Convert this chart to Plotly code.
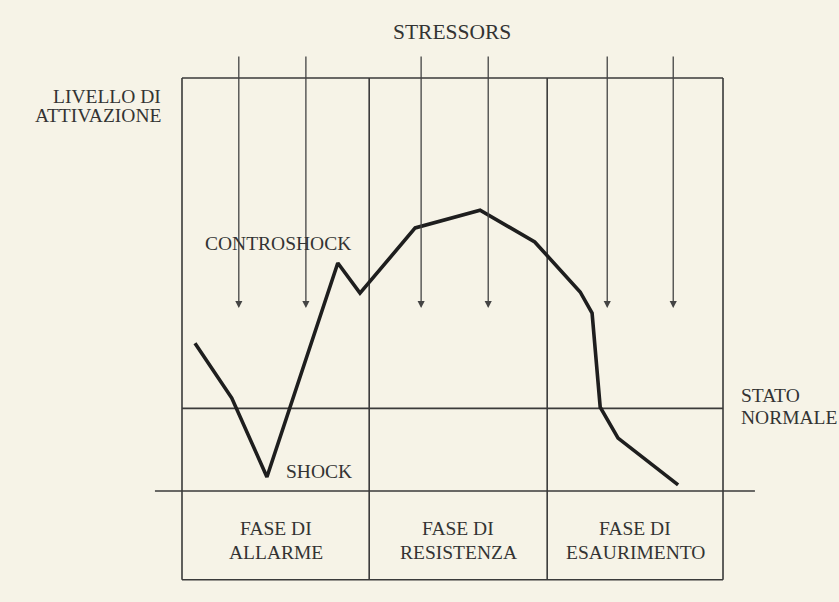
import plotly.graph_objects as go

# ---- data (time in % of the observed span, activation level in arbitrary units) ----
curve_time = [2.4, 9.2, 15.7, 28.8, 32.9, 43.1, 55.1, 65.2, 73.6, 75.8, 77.3, 80.6, 91.7]
curve_level = [35.8, 22.5, 3.4, 55.2, 47.9, 63.7, 68.0, 60.3, 48.2, 43.1, 20.3, 12.8, 1.5]

stressor_times = [10.5, 22.9, 44.2, 56.6, 78.6, 90.8]
stressor_start = 105.6
stressor_end = 44.3

phase_bounds = [0, 34.6, 67.5, 100]
phase_names = [("FASE DI", "ALLARME"), ("FASE DI", "RESISTENZA"), ("FASE DI", "ESAURIMENTO")]
normal_level = 20
top_level = 100
bottom_level = -21.5
axis_level = 0
axis_extent = [-5.0, 105.9]

INK = "#3a3a3a"
BG = "#f6f3e7"
FONT = "Liberation Serif, Times New Roman, serif"

fig = go.Figure()

fx, fy = [], []
fx += [phase_bounds[0], phase_bounds[-1], None, phase_bounds[0], phase_bounds[-1], None]
fy += [top_level, top_level, None, bottom_level, bottom_level, None]
for b in phase_bounds:
    fx += [b, b, None]
    fy += [top_level, bottom_level, None]
fx += [phase_bounds[0], phase_bounds[-1], None]
fy += [normal_level, normal_level, None]
fx += [axis_extent[0], axis_extent[1], None]
fy += [axis_level, axis_level, None]

fig.add_trace(go.Scatter(x=fx, y=fy, mode="lines", line=dict(color=INK, width=1.6),
                         hoverinfo="skip", showlegend=False))

fig.add_trace(go.Scatter(x=curve_time, y=curve_level, mode="lines",
                         line=dict(color="#1e1e1e", width=3.6), showlegend=False))

annotations = []
for t in stressor_times:
    annotations.append(dict(x=t, y=stressor_end, ax=t, ay=stressor_start, xref="x", yref="y",
                            axref="x", ayref="y", text="", showarrow=True, arrowhead=2,
                            arrowsize=1.1, arrowwidth=1.3, arrowcolor="#444"))

def label(text, x, y, size=19.5, xanchor="center"):
    annotations.append(dict(x=x, y=y, xref="x", yref="y", text=text, showarrow=False,
                            xanchor=xanchor, yanchor="middle",
                            font=dict(family=FONT, size=size, color="#333333")))

label("STRESSORS", 49.9, 111.1, size=21.5)
label("LIVELLO DI", -3.6, 95.6, xanchor="right")
label("ATTIVAZIONE", -3.6, 91.0, xanchor="right")
label("CONTROSHOCK", 17.7, 60.0)
label("SHOCK", 25.3, 4.6)
label("STATO", 103.0, 23.2, xanchor="left")
label("NORMALE", 103.0, 17.7, xanchor="left")
for i, (l1, l2) in enumerate(phase_names):
    cx = (phase_bounds[i] + phase_bounds[i + 1]) / 2
    label(l1, cx, -9.2)
    label(l2, cx, -14.8)

fig.update_layout(
    width=839, height=602, margin=dict(l=0, r=0, t=0, b=0),
    paper_bgcolor=BG, plot_bgcolor=BG,
    xaxis=dict(range=[-33.64, 121.44], visible=False, fixedrange=True),
    yaxis=dict(range=[-26.88, 118.89], visible=False, fixedrange=True),
    annotations=annotations, showlegend=False,
)

fig.write_html(
    "out.html",
    config={"displayModeBar": False},
    post_script="document.body.style.margin='0';document.body.style.overflow='hidden';"
                "document.body.style.background='" + BG + "';",
)
